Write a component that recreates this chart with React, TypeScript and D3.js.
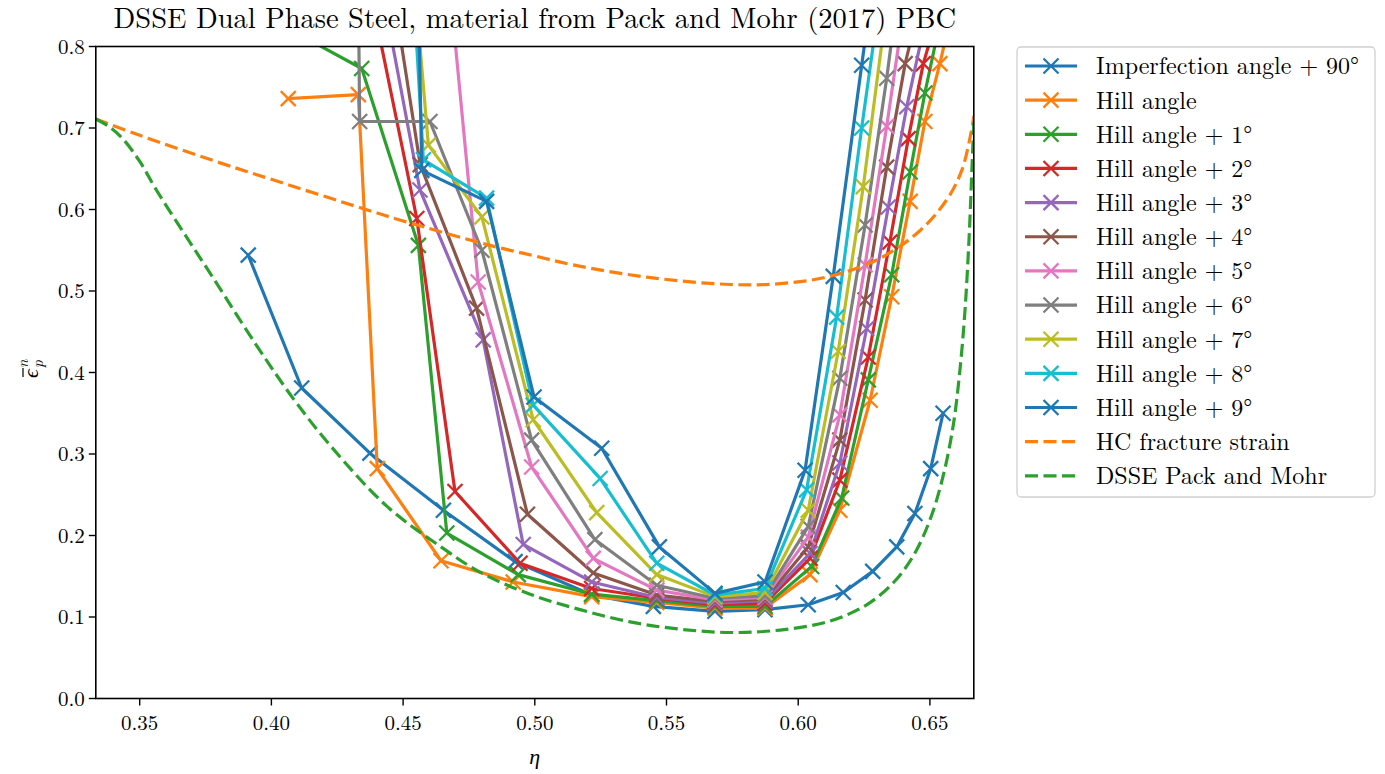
import React from 'react';
import * as d3 from 'd3';

const W = 1385;
const H = 774;
const PLOT = { left: 95.8, right: 973.8, top: 46.5, bottom: 698.5 };

const X_DOMAIN: [number, number] = [1 / 3, 2 / 3];
const Y_DOMAIN: [number, number] = [0, 0.8];
const X_TICKS = [0.35, 0.4, 0.45, 0.5, 0.55, 0.6, 0.65];
const Y_TICKS = [0, 0.1, 0.2, 0.3, 0.4, 0.5, 0.6, 0.7, 0.8];

const TITLE = 'DSSE Dual Phase Steel, material from Pack and Mohr (2017) PBC';

// [eta, strain] pairs
const imperfection90 = [
  [0.3912, 0.544], [0.4115, 0.381], [0.4374, 0.301], [0.4653, 0.231], [0.4925, 0.168],
  [0.5216, 0.127], [0.545, 0.113], [0.5684, 0.107], [0.5874, 0.109], [0.6038, 0.115],
  [0.6171, 0.13], [0.6283, 0.156], [0.6374, 0.186], [0.6443, 0.227], [0.6503, 0.282], [0.655, 0.35],
];
const hill0 = [
  [0.4064, 0.736], [0.433, 0.741], [0.4402, 0.282], [0.4644, 0.169], [0.4918, 0.143],
  [0.5216, 0.125], [0.5463, 0.118], [0.5684, 0.111], [0.5874, 0.111], [0.6045, 0.152],
  [0.6158, 0.231], [0.6273, 0.366], [0.6355, 0.493], [0.6425, 0.61], [0.6481, 0.708],
  [0.6538, 0.779], [0.6595, 0.86],
];
const hill1 = [
  [0.4115, 0.813], [0.4343, 0.773], [0.4558, 0.556], [0.4666, 0.203], [0.4937, 0.152],
  [0.5216, 0.128], [0.5463, 0.12], [0.5684, 0.113], [0.5874, 0.113], [0.6051, 0.162],
  [0.6165, 0.246], [0.6266, 0.391], [0.6355, 0.52], [0.6425, 0.646], [0.6481, 0.743], [0.6535, 0.825],
];
const hill2 = [
  [0.4374, 0.87], [0.4552, 0.589], [0.4697, 0.254], [0.4944, 0.166], [0.5216, 0.135],
  [0.5463, 0.123], [0.5684, 0.115], [0.5874, 0.117], [0.6045, 0.172], [0.6158, 0.268],
  [0.6266, 0.419], [0.6348, 0.56], [0.6418, 0.687], [0.6475, 0.779], [0.653, 0.84],
];
const hill3 = [
  [0.4374, 0.95], [0.4564, 0.624], [0.4804, 0.44], [0.4956, 0.189], [0.5216, 0.143],
  [0.5463, 0.124], [0.5684, 0.117], [0.5874, 0.12], [0.6045, 0.178], [0.6158, 0.289],
  [0.626, 0.454], [0.6342, 0.603], [0.6412, 0.726], [0.6475, 0.82],
];
const hill4 = [
  [0.4374, 1.05], [0.4565, 0.655], [0.4779, 0.479], [0.4972, 0.226], [0.5222, 0.154],
  [0.5463, 0.127], [0.5684, 0.119], [0.5874, 0.122], [0.6038, 0.186], [0.6158, 0.317],
  [0.6254, 0.489], [0.6336, 0.652], [0.6406, 0.779], [0.646, 0.85],
];
const hill5 = [
  [0.464, 1.0], [0.4785, 0.511], [0.4988, 0.284], [0.5222, 0.172], [0.5463, 0.133],
  [0.5684, 0.121], [0.5874, 0.124], [0.6038, 0.198], [0.6158, 0.348], [0.6254, 0.532],
  [0.6336, 0.702], [0.6412, 0.87],
];
const hill6 = [
  [0.4328, 0.95], [0.4335, 0.708], [0.4602, 0.708], [0.4799, 0.55], [0.4988, 0.317],
  [0.5228, 0.195], [0.5463, 0.139], [0.5684, 0.123], [0.5874, 0.126], [0.6038, 0.211],
  [0.6158, 0.393], [0.6254, 0.581], [0.6336, 0.761], [0.6412, 0.95],
];
const hill7 = [
  [0.4525, 0.95], [0.4596, 0.679], [0.4799, 0.591], [0.4994, 0.342], [0.5235, 0.228],
  [0.5463, 0.152], [0.5684, 0.125], [0.5874, 0.13], [0.6038, 0.231], [0.6152, 0.426],
  [0.6247, 0.628], [0.6336, 0.85],
];
const hill8 = [
  [0.4525, 0.95], [0.4577, 0.661], [0.4817, 0.614], [0.4994, 0.36], [0.5248, 0.27],
  [0.5463, 0.166], [0.5684, 0.127], [0.5874, 0.135], [0.6032, 0.256], [0.6146, 0.468],
  [0.6241, 0.7], [0.6336, 0.92],
];
const hill9 = [
  [0.455, 1.0], [0.4571, 0.648], [0.4817, 0.61], [0.4997, 0.37], [0.5254, 0.307],
  [0.5473, 0.186], [0.5684, 0.129], [0.5874, 0.143], [0.6026, 0.28], [0.6133, 0.518],
  [0.6241, 0.777], [0.6336, 1.0],
];
const hcFracture = [
  [0.3333, 0.711], [0.35, 0.691], [0.3817, 0.656], [0.4, 0.637], [0.4349, 0.601],
  [0.45, 0.586], [0.483, 0.556], [0.5, 0.543], [0.5146, 0.532], [0.5425, 0.517],
  [0.5741, 0.508], [0.5931, 0.509], [0.612, 0.518], [0.631, 0.54], [0.6462, 0.574],
  [0.6564, 0.612], [0.6621, 0.648], [0.6659, 0.699], [0.6667, 0.715],
];
const dssePackMohr = [
  [0.3333, 0.711], [0.3387, 0.701], [0.3438, 0.686], [0.3502, 0.658], [0.3565, 0.623],
  [0.3678, 0.566], [0.3779, 0.516], [0.3944, 0.433], [0.4083, 0.368], [0.4222, 0.311],
  [0.4438, 0.236], [0.4644, 0.186], [0.4792, 0.155], [0.4982, 0.128], [0.5172, 0.109],
  [0.5362, 0.094], [0.5552, 0.085], [0.5741, 0.081], [0.5931, 0.084], [0.612, 0.095],
  [0.626, 0.115], [0.6361, 0.142], [0.6437, 0.175], [0.65, 0.219], [0.6551, 0.274],
  [0.6589, 0.336], [0.6614, 0.403], [0.6633, 0.475], [0.6648, 0.56], [0.6659, 0.645],
  [0.6667, 0.711],
];

const LABELS = [
  'Imperfection angle + 90°', 'Hill angle', 'Hill angle + 1°', 'Hill angle + 2°',
  'Hill angle + 3°', 'Hill angle + 4°', 'Hill angle + 5°', 'Hill angle + 6°',
  'Hill angle + 7°', 'Hill angle + 8°', 'Hill angle + 9°', 'HC fracture strain', 'DSSE Pack and Mohr',
];
const COLORS = [
  '#1f77b4', '#ff7f0e', '#2ca02c', '#d62728', '#9467bd', '#8c564b', '#e377c2',
  '#7f7f7f', '#bcbd22', '#17becf', '#1f77b4', '#ff7f0e', '#2ca02c',
];
const SERIES = [imperfection90, hill0, hill1, hill2, hill3, hill4, hill5, hill6, hill7, hill8, hill9];
const DASHED = [hcFracture, dssePackMohr];

const FONT = "'Latin Modern Roman','CMU Serif','Liberation Serif',serif";
const LW = 3.2;
const MS = 7.5;
const MW = 2.3;
const DASH = '13,5.5';

function XMark({ cx, cy, color }: { cx: number; cy: number; color: string }) {
  return (
    <path
      d={`M${cx - MS},${cy - MS}L${cx + MS},${cy + MS}M${cx - MS},${cy + MS}L${cx + MS},${cy - MS}`}
      stroke={color}
      strokeWidth={MW}
      fill="none"
    />
  );
}

export default function App() {
  const x = d3.scaleLinear().domain(X_DOMAIN).range([PLOT.left, PLOT.right]);
  const y = d3.scaleLinear().domain(Y_DOMAIN).range([PLOT.bottom, PLOT.top]);
  const line = d3.line<number[]>().x((d) => x(d[0])).y((d) => y(d[1]));
  const smooth = d3
    .line<number[]>()
    .x((d) => x(d[0]))
    .y((d) => y(d[1]))
    .curve(d3.curveCatmullRom.alpha(0.5));

  const legX = 1017;
  const legY = 47;
  const legW = 358;
  const legH = 450;
  const rowY = (i: number) => 66 + i * 34.15;

  return (
    <svg
      width={W}
      height={H}
      style={{ position: 'absolute', left: 0, top: 0, background: '#fff' }}
      fontFamily={FONT}
    >
      <defs>
        <clipPath id="plotclip">
          <rect x={PLOT.left} y={PLOT.top} width={PLOT.right - PLOT.left} height={PLOT.bottom - PLOT.top} />
        </clipPath>
      </defs>
      <rect x={0} y={0} width={W} height={H} fill="#fff" />

      <g clipPath="url(#plotclip)">
        {SERIES.map((s, i) => (
          <g key={i}>
            <path d={line(s) || ''} fill="none" stroke={COLORS[i]} strokeWidth={LW} strokeLinejoin="round" strokeLinecap="square" />
            {s.map((p, j) => (
              <XMark key={j} cx={x(p[0])} cy={y(p[1])} color={COLORS[i]} />
            ))}
          </g>
        ))}
        {DASHED.map((s, i) => (
          <path
            key={i}
            d={smooth(s) || ''}
            fill="none"
            stroke={COLORS[11 + i]}
            strokeWidth={LW}
            strokeDasharray={DASH}
          />
        ))}
      </g>

      {/* axes spines */}
      <rect
        x={PLOT.left}
        y={PLOT.top}
        width={PLOT.right - PLOT.left}
        height={PLOT.bottom - PLOT.top}
        fill="none"
        stroke="#000"
        strokeWidth={1.6}
      />

      {/* x ticks */}
      {X_TICKS.map((t) => (
        <g key={t} transform={`translate(${x(t)},${PLOT.bottom})`}>
          <line y1={0} y2={7} stroke="#000" strokeWidth={1.4} />
          <text y={31} textAnchor="middle" fontSize={21} fill="#000">
            {t.toFixed(2)}
          </text>
        </g>
      ))}
      {/* y ticks */}
      {Y_TICKS.map((t) => (
        <g key={t} transform={`translate(${PLOT.left},${y(t)})`}>
          <line x1={0} x2={-7} stroke="#000" strokeWidth={1.4} />
          <text x={-11} dy="0.35em" textAnchor="end" fontSize={21} fill="#000">
            {t.toFixed(1)}
          </text>
        </g>
      ))}

      {/* title */}
      <text x={(PLOT.left + PLOT.right) / 2} y={28} textAnchor="middle" fontSize={28.5} fill="#000">
        {TITLE}
      </text>

      {/* x label */}
      <text x={(PLOT.left + PLOT.right) / 2} y={764} textAnchor="middle" fontSize={22} fontStyle="italic" fill="#000">
        η
      </text>

      {/* y label: epsilon bar, sub p, sup n */}
      <g transform="translate(38,378) rotate(-90)">
        <text x={0} y={0} fontSize={22} fontStyle="italic" fill="#000">ϵ</text>
        <line x1={1} x2={10} y1={-15} y2={-15} stroke="#000" strokeWidth={1.2} />
        <text x={10} y={5} fontSize={15} fontStyle="italic" fill="#000">p</text>
        <text x={10} y={-10} fontSize={15} fontStyle="italic" fill="#000">n</text>
      </g>

      {/* legend */}
      <rect x={legX} y={legY} width={legW} height={legH} rx={4} fill="#fff" stroke="#d0d0d0" strokeWidth={1.3} />
      {LABELS.map((lab, i) => {
        const yy = rowY(i);
        const dashed = i >= 11;
        return (
          <g key={lab}>
            <line
              x1={1025}
              x2={1077}
              y1={yy}
              y2={yy}
              stroke={COLORS[i]}
              strokeWidth={LW}
              strokeDasharray={dashed ? DASH : undefined}
            />
            {!dashed && <XMark cx={1051} cy={yy} color={COLORS[i]} />}
            <text x={1096} y={yy} dy="0.35em" fontSize={24} fill="#000">
              {lab}
            </text>
          </g>
        );
      })}
    </svg>
  );
}
